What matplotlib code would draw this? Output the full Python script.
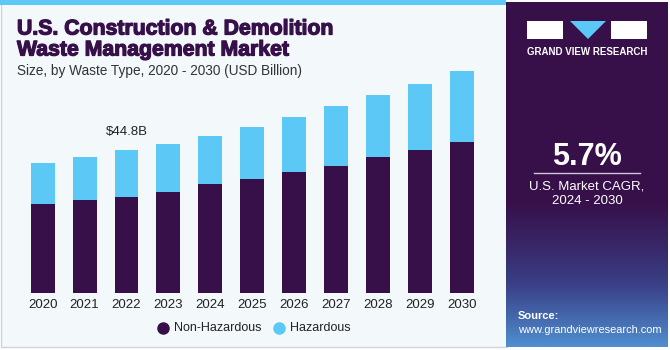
import numpy as np
import matplotlib.pyplot as plt
import matplotlib.patheffects as pe
from matplotlib.patches import Rectangle, Polygon
from matplotlib.colors import LinearSegmentedColormap

years = ['2020', '2021', '2022', '2023', '2024', '2025', '2026', '2027', '2028', '2029', '2030']
non_hazardous = [27.8, 29.1, 30.2, 31.8, 34.1, 35.6, 38.0, 39.8, 42.5, 44.8, 47.3]
hazardous = [13.0, 13.6, 14.6, 15.0, 15.2, 16.4, 17.2, 18.7, 19.4, 20.7, 22.1]
series_names = ['Non-Hazardous', 'Hazardous']

purple = '#37104a'
cyan = '#5bc8f5'
W, H = 670, 350

plt.rcParams['font.family'] = ['Liberation Sans', 'DejaVu Sans']

fig = plt.figure(figsize=(6.7, 3.5), dpi=100)
fig.patch.set_facecolor('white')

def px(x, y):
    return x / W, 1 - y / H

# left panel background and top stripe
fig.patches.append(Rectangle(px(1, 347), 506 / W, 345 / H, transform=fig.transFigure,
                             facecolor='#f3f8fb', edgecolor='#d0d4d8', lw=1, zorder=-2))
fig.patches.append(Rectangle(px(0, 5), 506 / W, 5 / H, transform=fig.transFigure,
                             facecolor=cyan, edgecolor='none', zorder=-1))

# right panel with gradient at the bottom
rp = fig.add_axes([506 / W, 3 / H, 162 / W, 345 / H])
rp.set_zorder(1)
cmap = LinearSegmentedColormap.from_list('p', [purple, purple, '#3a3f86', '#4f8fd0'])
grad = np.linspace(0, 1, 256).reshape(-1, 1) ** 2
rp.imshow(grad, aspect='auto', cmap=cmap, extent=[0, 1, 0, 1], origin='upper')
rp.set_axis_off()

# logo
fig.patches.append(Rectangle(px(527, 39), 36 / W, 18 / H, transform=fig.transFigure,
                             facecolor='white', edgecolor='none', zorder=3))
fig.patches.append(Polygon([px(570, 21), px(606, 21), px(588, 39)], closed=True,
                           transform=fig.transFigure, facecolor=cyan, edgecolor='none', zorder=3))
fig.patches.append(Rectangle(px(611, 39), 36 / W, 18 / H, transform=fig.transFigure,
                             facecolor='white', edgecolor='none', zorder=3))
fig.text(*px(587, 52), 'GRAND VIEW RESEARCH', color='white', fontsize=7, fontweight='bold',
         ha='center', va='center', zorder=3)

fig.text(*px(587, 157), '5.7%', color='white', fontsize=22, fontweight='bold',
         ha='center', va='center', zorder=3)
fig.lines.append(plt.Line2D([534 / W, 640 / W], [1 - 173 / H, 1 - 173 / H],
                            transform=fig.transFigure, color='#cfc6d8', lw=1, zorder=3))
fig.text(*px(587, 186), 'U.S. Market CAGR,', color='white', fontsize=9.5, ha='center',
         va='center', zorder=3)
fig.text(*px(587, 201), '2024 - 2030', color='white', fontsize=9.5, ha='center',
         va='center', zorder=3)
fig.text(*px(518, 316), 'Source:', color='white', fontsize=8, fontweight='bold',
         va='center', zorder=3)
fig.text(*px(518, 330), 'www.grandviewresearch.com', color='white', fontsize=7.9,
         va='center', zorder=3)

# titles
heavy = [pe.withStroke(linewidth=0.9, foreground=purple)]
fig.text(*px(17, 29), 'U.S. Construction & Demolition', color=purple, fontsize=15.3,
         fontweight='bold', va='center', path_effects=heavy)
fig.text(*px(17, 50), 'Waste Management Market', color=purple, fontsize=15.3,
         fontweight='bold', va='center', path_effects=heavy)
fig.text(*px(17, 71), 'Size, by Waste Type, 2020 - 2030 (USD Billion)', color='#333333',
         fontsize=9.8, va='center')

# bars
ax = fig.add_axes([21.75 / W, 1 - 293.3 / H, 461 / W, 228.3 / H])
ax.set_zorder(2)
ax.set_facecolor('none')
x = np.arange(len(years))
ax.bar(x, non_hazardous, width=0.57, color=purple)
ax.bar(x, hazardous, width=0.57, bottom=non_hazardous, color=cyan)
ax.set_xlim(-0.5, 10.5)
ax.set_ylim(0, 228.3 * 44.8 / 143.3)
ax.set_xticks(x)
ax.set_xticklabels(years, fontsize=9.5, color='#222222')
ax.tick_params(axis='x', length=0, pad=4)
ax.set_yticks([])
for s in ax.spines.values():
    s.set_visible(False)

total_2022 = non_hazardous[2] + hazardous[2]
ax.annotate(f'${total_2022:.1f}B', (2, total_2022), xytext=(0, 13), textcoords='offset points',
            ha='center', va='center', fontsize=9.5, color='#222222')

# legend: circle markers and labels
for xm, c, name in [(163, purple, series_names[0]), (279, cyan, series_names[1])]:
    fig.lines.append(plt.Line2D([xm / W], [1 - 328 / H], transform=fig.transFigure,
                                marker='o', ms=8, color=c, lw=0, zorder=3))
    fig.text(*px(xm + 11, 328), name, color='#222222', fontsize=9, va='center', zorder=3)

fig.savefig('out.png', dpi=100)
